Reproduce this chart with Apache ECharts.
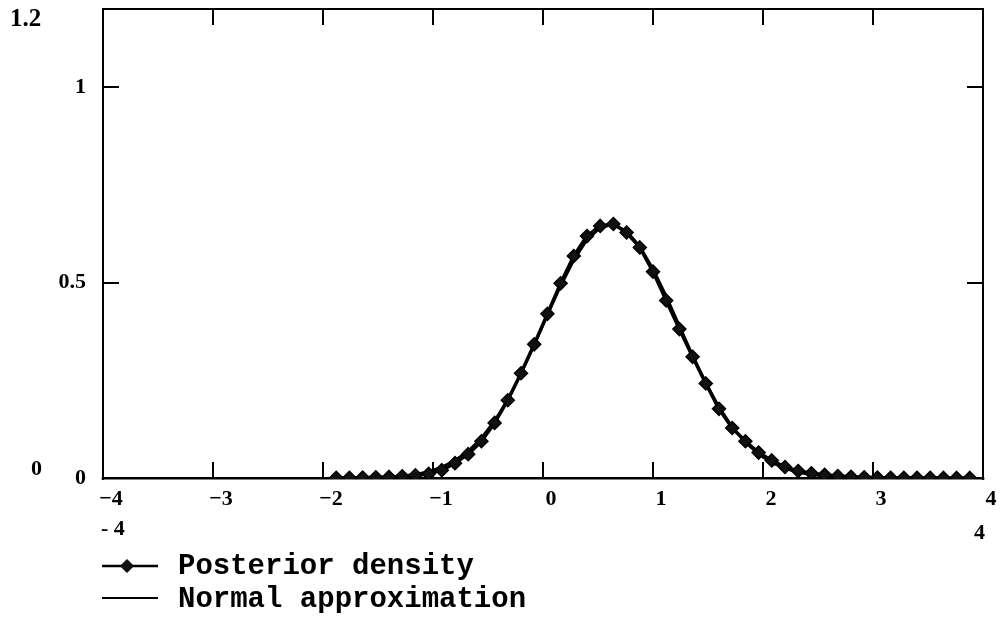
<!DOCTYPE html>
<html>
<head>
<meta charset="utf-8">
<script src="https://cdn.jsdelivr.net/npm/echarts@6/dist/echarts.min.js"></script>
<style>
html,body{margin:0;padding:0;background:#fff;}
#chart{width:1001px;height:623px;}
</style>
</head>
<body>
<div id="chart"></div>
<script>
const xs = [-1.88,-1.76,-1.64,-1.52,-1.40,-1.28,-1.16,-1.04,-0.92,-0.80,-0.68,-0.56,-0.44,-0.32,-0.20,-0.08,0.04,0.16,0.28,0.40,0.52,0.64,0.76,0.88,1.00,1.12,1.24,1.36,1.48,1.60,1.72,1.84,1.96,2.08,2.20,2.32,2.44,2.56,2.68,2.80,2.92,3.04,3.16,3.28,3.40,3.52,3.64,3.76,3.88];
const posterior = [0.0005,0.0008,0.0012,0.0018,0.0028,0.0045,0.0070,0.0105,0.020,0.038,0.061,0.094,0.141,0.199,0.268,0.342,0.420,0.498,0.568,0.619,0.645,0.650,0.628,0.590,0.528,0.454,0.381,0.310,0.242,0.177,0.128,0.094,0.065,0.045,0.028,0.018,0.012,0.008,0.005,0.003,0.002,0.001,0.0008,0.0006,0.0005,0.0004,0.0003,0.0002,0.0002];
const normalApprox = [0.0002,0.0004,0.0008,0.0015,0.0029,0.0055,0.0098,0.0170,0.0282,0.0452,0.0695,0.1029,0.1469,0.2018,0.2667,0.3395,0.4158,0.4904,0.5568,0.6085,0.6402,0.6484,0.6321,0.5932,0.5360,0.4662,0.3903,0.3146,0.2440,0.1823,0.1311,0.0907,0.0605,0.0388,0.0239,0.0142,0.0081,0.0045,0.0024,0.0012,0.0006,0.0003,0.0001,0,0,0,0,0,0];
const xTicks = [-4,-3,-2,-1,0,1,2,3,4];
const yTicks = [0,0.5,1];
const seriesNames = ['Posterior density','Normal approximation'];

const chart = echarts.init(document.getElementById('chart'), null, {renderer:'canvas'});
const serif = '"Liberation Serif","Times New Roman",serif';
const mono = '"Liberation Mono","Courier New",monospace';
const fmtX = v => (v < 0 ? '\u2212' + Math.abs(v) : String(v));

const option = {
  backgroundColor:'#fff',
  animation:false,
  grid:{left:103,right:18,top:9,bottom:145,show:true,borderColor:'#000',borderWidth:2},
  xAxis:[{
    type:'value',min:-4,max:4,interval:1,position:'bottom',
    axisLine:{show:true,onZero:false,lineStyle:{color:'#000',width:3}},
    axisTick:{show:true,inside:true,length:16,lineStyle:{color:'#000',width:2}},
    axisLabel:{show:true,margin:10,color:'#000',fontFamily:serif,fontWeight:'bold',fontSize:22,
      padding:[0,0,0,16],formatter:fmtX},
    splitLine:{show:false}
  },{
    type:'value',min:-4,max:4,interval:1,position:'top',
    axisLine:{show:true,onZero:false,lineStyle:{color:'#000',width:2}},
    axisTick:{show:true,inside:true,length:16,lineStyle:{color:'#000',width:2}},
    axisLabel:{show:false},splitLine:{show:false}
  }],
  yAxis:[{
    type:'value',min:0,max:1.2,interval:0.5,position:'left',
    axisLine:{show:true,onZero:false,lineStyle:{color:'#000',width:2}},
    axisTick:{show:true,inside:true,length:16,lineStyle:{color:'#000',width:2}},
    axisLabel:{show:true,margin:17,color:'#000',fontFamily:serif,fontWeight:'bold',fontSize:22,showMaxLabel:false,
      formatter:v => (yTicks.indexOf(v) >= 0 ? String(v) : '')},
    splitLine:{show:false}
  },{
    type:'value',min:0,max:1.2,interval:0.5,position:'right',
    axisLine:{show:true,onZero:false,lineStyle:{color:'#000',width:2}},
    axisTick:{show:true,inside:true,length:16,lineStyle:{color:'#000',width:2}},
    axisLabel:{show:false},splitLine:{show:false}
  }],
  series:[{
    name:seriesNames[0],type:'line',xAxisIndex:0,yAxisIndex:0,
    data:xs.map((x,i)=>[x,posterior[i]]),
    symbol:'diamond',symbolSize:[13,13],showSymbol:true,
    lineStyle:{color:'#000',width:3.5},
    itemStyle:{color:'#111',borderColor:'#000',borderWidth:1.5},
    z:3
  },{
    name:seriesNames[1],type:'line',xAxisIndex:0,yAxisIndex:0,
    data:xs.map((x,i)=>[x,normalApprox[i]]),
    showSymbol:false,symbol:'none',
    lineStyle:{color:'#000',width:2.5},
    itemStyle:{color:'#000'},
    z:2
  }],
  graphic:[
    {type:'rect',z:100,shape:{x:104,y:479.5,width:878,height:7},style:{fill:'#fff'}},
    {type:'text',left:10,top:7,style:{text:'1.2',font:'bold 25px ' + serif,fill:'#000'}},
    {type:'text',left:31,top:458,style:{text:'0',font:'bold 22px ' + serif,fill:'#000'}},
    {type:'text',left:101,top:518,style:{text:'- 4',font:'bold 22px ' + serif,fill:'#000'}},
    {type:'text',left:974,top:522,style:{text:'4',font:'bold 22px ' + serif,fill:'#000'}},
    // legend
    {type:'line',shape:{x1:102,y1:566,x2:158,y2:566},style:{stroke:'#000',lineWidth:2.5}},
    {type:'polygon',shape:{points:[[127,559.5],[133.5,566],[127,572.5],[120.5,566]]},style:{fill:'#111',stroke:'#000',lineWidth:1}},
    {type:'text',x:178,y:567,style:{text:seriesNames[0],font:'bold 29px ' + mono,fill:'#000',textVerticalAlign:'middle',verticalAlign:'middle'}},
    {type:'line',shape:{x1:102,y1:598,x2:158,y2:598},style:{stroke:'#000',lineWidth:2}},
    {type:'text',x:178,y:600,style:{text:seriesNames[1],font:'bold 29px ' + mono,fill:'#000',textVerticalAlign:'middle',verticalAlign:'middle'}}
  ]
};
chart.setOption(option);
</script>
</body>
</html>
